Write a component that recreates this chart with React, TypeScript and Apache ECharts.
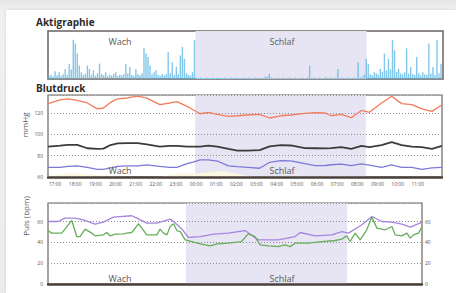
import { useEffect, useRef } from 'react';
import * as echarts from 'echarts';

// Hour tick labels: index i corresponds to i hours after 17:00
const hourLabels = ['17:00','18:00','19:00','20:00','21:00','22:00','23:00','00:00','01:00','02:00','03:00','04:00','05:00','06:00','07:00','08:00','09:00','10:00','11:00'];

// Sleep period (hours after 17:00)
const sleepPeriod = [6.95, 15.42];

// Blood pressure (hours after 17:00)
const bpTime = [-0.35,0.25,0.65,1.1,1.6,2.1,2.4,2.75,3.1,3.6,4.1,4.55,5.2,5.7,6.05,6.55,6.85,7.2,7.6,8.05,8.6,9.05,9.55,10.15,10.65,11.2,11.7,12.4,12.9,13.4,13.7,14.2,14.7,15.2,15.6,16.2,16.7,17.2,17.7,18.2,18.7,19.2];
const systolic = [129,132.5,133.3,132,129.5,124,124.8,130,133.3,134.2,136,134,128,129.5,130.8,126.3,123.2,119.4,120.7,118.8,117,117.5,118.2,118.8,115.4,117.5,118.2,119.7,120.4,120.1,117.5,118.8,115.7,122.5,120.7,129.5,135.8,128.9,127.9,123.9,121.6,127.9];
const meanBP = [88.6,89.4,90.2,90.2,87,86.4,86.6,90,91.5,91.8,91.8,90.6,88.6,89.2,89.2,88.6,88.6,88.6,89.4,88.6,86.4,84.8,84.8,85.2,88.8,89.9,89.6,87.2,87,86.8,87.2,88,86.4,89.2,88,89.9,92.7,89.9,88.6,88,86.5,89.2];
const diastolic = [69.1,69.1,70,70.4,69,67.2,67.2,68.5,70,70.4,70.4,71.3,70,69.1,69.1,72.5,74,76,76,75,70.4,69.7,69.1,68.2,73.8,75.4,75.2,72.5,70.6,70.8,71.5,72,70.6,72.3,71.2,69.1,71.3,69.1,69.1,67.2,68.5,69.1];

// Pulse (hours after 17:00)
const pulseATime = [-0.3,0.24,0.59,1.12,1.56,2.17,2.61,3.14,4.1,4.37,4.89,5.42,6.12,6.3,6.74,7.08,7.7,8.4,9.17,10.05,10.75,11.8,12.68,12.95,13.74,14.61,15.14,15.49,16.19,16.72,17.24,17.77,18.29,18.74,19.35];
const pulseA = [60.2,60.2,63.5,63.5,61.8,57.7,59.6,64.4,65.7,63.5,58.6,58.6,62.5,60.2,52.8,44.8,45.7,48,49,51.5,42.5,42.5,45.7,49.6,46.4,47.3,50.5,49,57,65,60.2,59.6,57.7,54.8,59.6];
const pulseBTime = [-0.3,-0.11,0.42,0.59,0.95,1.21,1.38,1.65,2.0,2.17,2.61,2.79,2.96,3.23,3.66,3.84,4.1,4.28,4.45,4.63,4.89,5.42,5.59,5.77,5.95,6.12,6.3,6.47,6.65,6.91,7.26,7.7,8.23,8.58,9.17,9.87,10.22,10.57,10.84,11.28,11.8,12.15,12.42,12.68,13.38,14.08,14.78,15.14,15.4,15.57,15.84,16.1,16.45,16.71,16.98,17.42,17.77,17.94,18.29,18.56,18.73,18.91,19.17,19.35];
const pulseB = [51.5,49,49,52.8,61.2,45.7,45.7,52.8,49,46.4,47.3,49.6,46.4,48,48.3,49,49.6,53.8,58,53.8,47.3,47.3,52.8,49,47.3,55.4,58,51.5,50.5,42.5,40.9,38.6,36.7,38.6,39.3,40.9,48.3,45.7,37.7,36.7,36,37.7,36,39.3,39.3,40.9,41.9,43.2,46.4,40.9,49,42.5,52.2,64.4,53.8,52.2,55.4,47.3,46.4,49,44.2,47.3,49,55.1];

// Actigraphy: activity counts every 0.1 h starting at -0.3 h
const actStart = -0.3;
const actStep = 0.1;
const activity = [
  6,9,5,16,8,14,7,10,21,9,
  32,20,82,74,53,28,14,8,11,28,
  21,9,18,7,12,32,10,8,14,6,
  9,7,11,14,6,9,8,10,32,12,
  25,9,7,21,10,8,12,64,53,46,
  28,10,14,18,9,7,11,8,10,56,
  12,35,9,25,10,49,67,42,12,9,
  7,14,81,3,2,3,2,2,3,2,
  2,3,2,2,3,2,2,3,2,2,
  3,2,2,3,2,2,3,2,2,3,
  2,2,3,2,2,3,2,5,4,11,
  3,2,2,3,2,2,3,2,2,3,
  2,2,3,2,2,3,2,2,3,28,
  2,3,2,2,3,2,2,4,2,3,
  2,2,3,21,2,3,2,2,3,2,
  2,3,2,35,3,4,9,42,32,10,
  8,14,12,9,21,15,53,18,42,20,
  81,60,15,21,12,10,14,64,11,25,
  10,9,46,12,8,14,10,9,74,11,
  25,9,81,12,32,
];

const FONT = 'Open Sans';
const SLEEP_COLOR = '#e7e5f4';
const CREAM = '#faf7e2';
const BORDER = '#6b6461';
const BAR_COLOR = '#58b4e3';
const DOTS = { color: '#8c8c8c', width: 1, type: [1, 2] as number[] };

export default function App() {
  const ref = useRef<HTMLDivElement>(null);
  useEffect(() => {
    if (!ref.current) return;
    const chart = echarts.init(ref.current, undefined, { renderer: 'svg' });
    const pairs = (t: number[], v: number[]) => t.map((x, i) => [x, v[i]]);
    const range = systolic.map((s, i) => s - diastolic[i]);
    const tickVals = hourLabels.map((_, i) => i);
    const small = { fontSize: 5, color: '#555', fontFamily: FONT };
    const markHost = (xi: number, z: number) => ({
      type: 'line', xAxisIndex: xi, yAxisIndex: xi, data: [], z, silent: true,
      markArea: { silent: true, itemStyle: { color: SLEEP_COLOR }, data: [[{ xAxis: sleepPeriod[0] }, { xAxis: sleepPeriod[1] }]] },
    });
    const line = (xi: number, yi: number, data: number[][], color: string, width: number) => ({
      type: 'line', xAxisIndex: xi, yAxisIndex: yi, data, symbol: 'none', z: 4, silent: true,
      lineStyle: { color, width }, emphasis: { disabled: true },
    });
    const txt = (text: string, x: number, y: number, size: number, color: string, weight = 'normal', rotation = 0) => ({
      type: 'text', x, y, rotation, z: 100,
      style: { text, fontSize: size, fontFamily: FONT, fontWeight: weight, fill: color, align: rotation ? 'center' : (weight === 'bold' ? 'left' : 'center'), verticalAlign: 'middle' },
    });
    chart.setOption({
      animation: false,
      textStyle: { fontFamily: FONT },
      grid: [
        { left: 48, top: 31, width: 395, height: 48, show: true, borderColor: BORDER, borderWidth: 1.5 },
        { left: 48, top: 95, width: 394, height: 82, show: true, borderColor: BORDER, borderWidth: 1.2 },
        { left: 48, top: 203, width: 374, height: 81, show: true, borderColor: BORDER, borderWidth: 1.2 },
      ],
      xAxis: [
        { gridIndex: 0, type: 'value', min: -0.35, max: 19.2, show: false },
        {
          gridIndex: 1, type: 'value', min: -0.35, max: 19.2, z: 3,
          axisLine: { show: true, onZero: false, lineStyle: { color: '#4a403c', width: 2.5, type: [2, 1] } },
          axisTick: { show: false }, splitLine: { show: false },
          axisLabel: { ...small, margin: 4, customValues: tickVals, formatter: (v: number) => hourLabels[Math.round(v)] ?? '' },
        },
        {
          gridIndex: 2, type: 'value', min: -0.3, max: 19.35, z: 3,
          axisLine: { show: true, onZero: false, lineStyle: { color: '#4a403c', width: 2.5, type: [2, 1] } },
          axisTick: { show: false }, splitLine: { show: false }, axisLabel: { show: false },
        },
      ],
      yAxis: [
        { gridIndex: 0, type: 'value', min: 0, max: 100, show: false },
        {
          gridIndex: 1, type: 'value', min: 60, max: 137, interval: 20, z: 3,
          axisLine: { show: false }, axisTick: { show: false },
          splitLine: { show: true, lineStyle: DOTS },
          axisLabel: { ...small, margin: 5, showMaxLabel: false },
        },
        {
          gridIndex: 2, type: 'value', min: 0, max: 78, interval: 20, z: 3,
          axisLine: { show: false }, axisTick: { show: false },
          splitLine: { show: true, lineStyle: DOTS },
          axisLabel: { ...small, margin: 5, showMaxLabel: false },
        },
        {
          gridIndex: 2, type: 'value', position: 'right', min: 0, max: 78, interval: 20, z: 3,
          axisLine: { show: false }, axisTick: { show: false }, splitLine: { show: false },
          axisLabel: { ...small, margin: 3, showMaxLabel: false },
        },
      ],
      series: [
        markHost(0, 1),
        {
          type: 'custom', xAxisIndex: 0, yAxisIndex: 0, z: 3, silent: true, clip: true,
          data: activity.map((v, i) => [actStart + i * actStep, v]),
          renderItem: (_p: any, api: any) => {
            const top = api.coord([api.value(0), api.value(1)]);
            const base = api.coord([api.value(0), 0]);
            return {
              type: 'rect',
              shape: { x: top[0] - 0.7, y: top[1], width: 1.4, height: base[1] - top[1] },
              style: { fill: BAR_COLOR, opacity: 0.75 },
            };
          },
        },
        {
          type: 'line', xAxisIndex: 1, yAxisIndex: 1, stack: 'bp', symbol: 'none', z: 1, silent: true,
          lineStyle: { opacity: 0 }, data: pairs(bpTime, diastolic),
        },
        {
          type: 'line', xAxisIndex: 1, yAxisIndex: 1, stack: 'bp', symbol: 'none', z: 1, silent: true,
          lineStyle: { opacity: 0 }, areaStyle: { color: CREAM, opacity: 1 }, data: pairs(bpTime, range),
        },
        markHost(1, 2),
        line(1, 1, pairs(bpTime, systolic), '#f47b5c', 1.3),
        line(1, 1, pairs(bpTime, meanBP), '#3f3a38', 1.8),
        line(1, 1, pairs(bpTime, diastolic), '#7c78d8', 1.3),
        markHost(2, 2),
        line(2, 2, pairs(pulseATime, pulseA), '#a584e0', 1.3),
        line(2, 2, pairs(pulseBTime, pulseB), '#68ad5a', 1.3),
      ],
      graphic: [
        txt('Aktigraphie', 36, 22, 10, '#2b2b2b', 'bold'),
        txt('Blutdruck', 36, 88, 10, '#2b2b2b', 'bold'),
        txt('Wach', 120, 41, 9, '#5a5a5a'),
        txt('Schlaf', 282, 41, 9, '#5a5a5a'),
        txt('Wach', 120, 170, 9, '#5a5a5a'),
        txt('Schlaf', 282, 170, 9, '#5a5a5a'),
        txt('Wach', 120, 278, 9, '#5a5a5a'),
        txt('Schlaf', 282, 278, 9, '#5a5a5a'),
        txt('mmHg', 24, 125, 8, '#5a5a5a', 'normal', Math.PI / 2),
        txt('Puls (bpm)', 25, 216, 8, '#5a5a5a', 'normal', Math.PI / 2),
      ],
    });
    return () => chart.dispose();
  }, []);
  return (
    <div style={{ position: 'fixed', left: 0, top: 0, width: 456, height: 293, background: 'linear-gradient(#e6e6e6, #f0f0f0 10px, #ececec)' }}>
      <div style={{ position: 'absolute', left: 6, top: 10, right: 0, bottom: 0, background: '#ffffff', boxShadow: '0 0 3px rgba(0,0,0,0.12)' }} />
      <div ref={ref} style={{ position: 'absolute', left: 0, top: 0, width: 456, height: 293 }} />
    </div>
  );
}
